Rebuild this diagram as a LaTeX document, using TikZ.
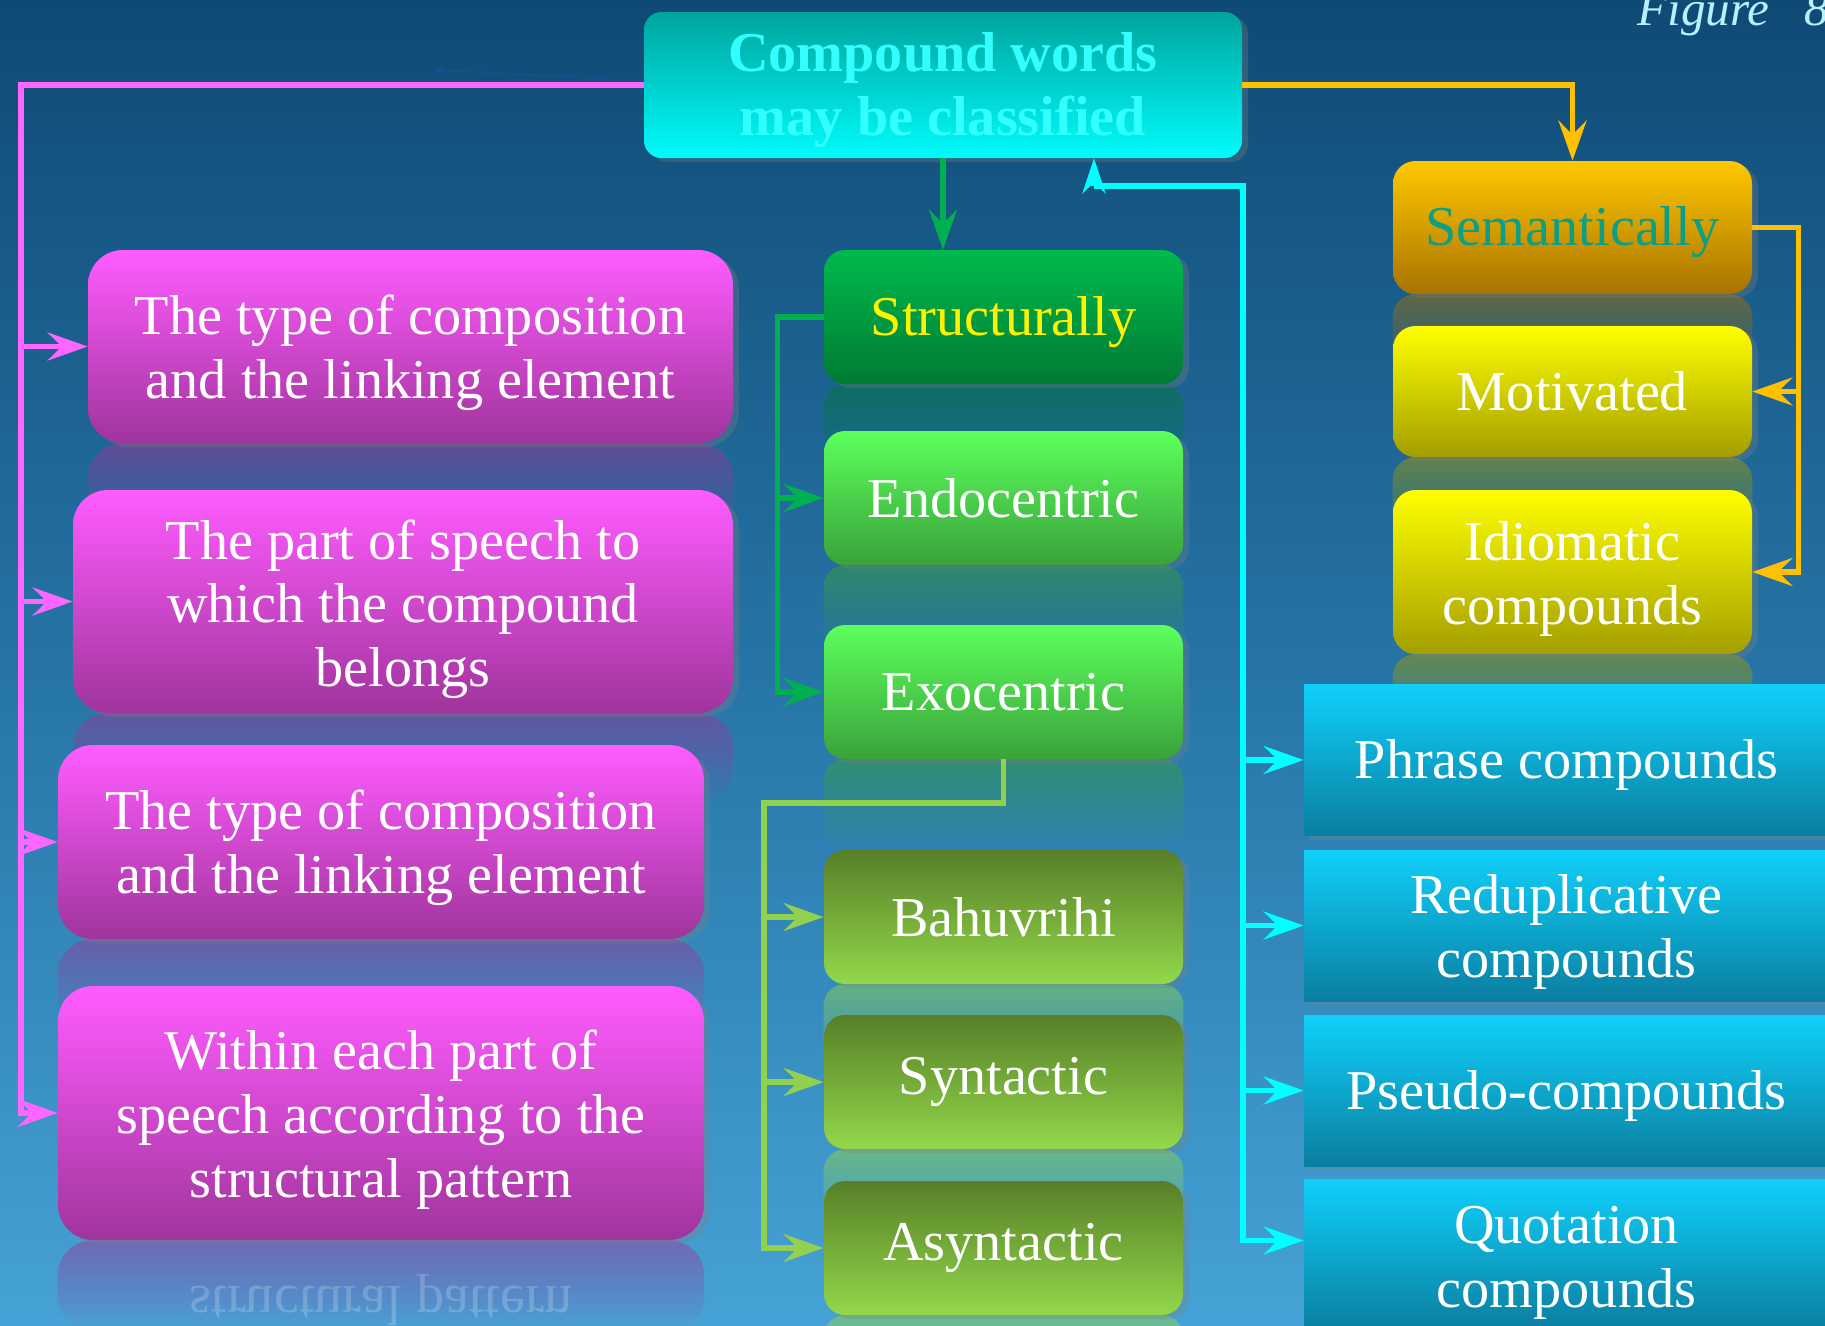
\documentclass[tikz,border=0pt]{standalone}
\usepackage{fontspec}
\setmainfont{Liberation Serif}
\usetikzlibrary{positioning, arrows.meta, shadows, fadings, backgrounds, calc}

\definecolor{bgTop}{HTML}{0F4A75}
\definecolor{bgMid}{HTML}{2674A6}
\definecolor{bgBot}{HTML}{46A2D6}
\definecolor{cyTop}{HTML}{00A49E}
\definecolor{cyBot}{HTML}{00FCFC}
\definecolor{cyText}{HTML}{33FFFF}
\definecolor{pinkTop}{HTML}{FF5CFF}
\definecolor{pinkBot}{HTML}{A0349C}
\definecolor{strTop}{HTML}{00BA4C}
\definecolor{strBot}{HTML}{007A34}
\definecolor{limeTop}{HTML}{5CFF5C}
\definecolor{limeBot}{HTML}{3AA23A}
\definecolor{oliveTop}{HTML}{577F28}
\definecolor{oliveBot}{HTML}{93D84A}
\definecolor{semTop}{HTML}{FFC800}
\definecolor{semBot}{HTML}{A87200}
\definecolor{semText}{HTML}{0E9E86}
\definecolor{yelTop}{HTML}{FFFF00}
\definecolor{yelBot}{HTML}{A39E00}
\definecolor{blueTop}{HTML}{10D0FA}
\definecolor{blueBot}{HTML}{0A7EA0}
\definecolor{pinkLine}{HTML}{FF66FF}
\definecolor{orangeLine}{HTML}{FFC000}
\definecolor{greenLine}{HTML}{00B050}
\definecolor{oliveLine}{HTML}{92D050}
\definecolor{cyanLine}{HTML}{00FFFF}
\definecolor{figText}{HTML}{B8F0FF}
\definecolor{strayLine}{HTML}{1A4E8C}

\begin{document}
\begin{tikzpicture}[
	every node/.style={font=\fontsize{32}{36.4}\selectfont, text=white, align=center, inner sep=0pt},
	box/.style={rectangle, rounded corners=0.42cm, minimum width=7.18cm, minimum height=2.68cm,
		drop shadow={shadow xshift=0.12cm, shadow yshift=-0.08cm, opacity=0.3}},
	lowtext/.style={execute at begin node={\rule{0pt}{#1}}},
	lowtext/.default=0.98cm,
	rootbox/.style={box, lowtext=2.25cm, rounded corners=0.35cm, minimum width=11.96cm, minimum height=2.92cm,
		top color=cyTop, bottom color=cyBot, text=cyText, font=\fontsize{32}{36.4}\selectfont\bfseries},
	pinkbox/.style={box, lowtext=2.31cm, rounded corners=0.7cm, top color=pinkTop, bottom color=pinkBot},
	strbox/.style={box, lowtext, top color=strTop, bottom color=strBot, text=yellow},
	limebox/.style={box, top color=limeTop, bottom color=limeBot},
	olivebox/.style={box, top color=oliveTop, bottom color=oliveBot},
	sembox/.style={box, lowtext, rounded corners=0.45cm, minimum height=2.66cm, top color=semTop, bottom color=semBot, text=semText},
	yelbox/.style={box, rounded corners=0.45cm, minimum height=2.62cm, top color=yelTop, bottom color=yelBot},
	bluebox/.style={box, lowtext, rounded corners=0pt, minimum width=10.5cm, minimum height=3.02cm, top color=blueTop, bottom color=blueBot},
	headtip/.style={-{Stealth[length=0.8cm, width=0.56cm, inset=0.28cm]}},
	wire/.style={line width=3pt, headtip},
	pinkline/.style={wire, pinkLine},
	orangeline/.style={wire, orangeLine},
	greenline/.style={wire, greenLine},
	oliveline/.style={wire, oliveLine},
	cyanline/.style={wire, cyanLine}
	]
	\useasboundingbox (0,0) rectangle (36.5,-26.52);
	
	% root
	\node[rootbox] (root) at (18.86,-1.70) {Compound words\\may be classified};
	\node[font=\itshape\fontsize{28}{32}\selectfont, text=figText, anchor=base west] (figLabel) at (32.74,-0.5) {Figure\hspace{0.7cm}8};
	
	% left column
	\node[pinkbox, minimum width=12.9cm, minimum height=3.86cm] (typeA) at (8.21,-6.93) {The type of composition\\and the linking element};
	\node[pinkbox, lowtext=3.66cm, minimum width=13.2cm, minimum height=4.46cm] (partSpeech) at (8.06,-12.03) {The part of speech to\\which the compound\\belongs};
	\node[pinkbox, minimum width=12.92cm, minimum height=3.88cm] (typeB) at (7.62,-16.84) {The type of composition\\and the linking element};
	\node[pinkbox, lowtext=3.6cm, minimum width=12.92cm, minimum height=5.08cm] (withinPart) at (7.62,-22.26) {Within each part of\\speech according to the\\structural pattern};
	\node[yscale=-1, opacity=0.2] (withinMirror) at (7.62,-26.0) {structural pattern};
	
	% middle column
	\node[strbox] (struct) at (20.07,-6.34) {Structurally};
	\node[limebox] (endo) at (20.07,-9.96) {Endocentric};
	\node[limebox] (exo) at (20.07,-13.84) {Exocentric};
	\node[olivebox] (bahu) at (20.07,-18.34) {Bahuvrihi};
	\node[olivebox] (synt) at (20.07,-21.64) {Syntactic};
	\node[olivebox] (asynt) at (20.07,-24.96) {Asyntactic};
	
	% right column
	\node[sembox] (sem) at (31.45,-4.55) {Semantically};
	\node[yelbox] (motiv) at (31.45,-7.83) {Motivated};
	\node[yelbox, lowtext=2.33cm, minimum height=3.28cm] (idiom) at (31.45,-11.44) {Idiomatic\\compounds};
	\node[bluebox] (phrase) at (31.33,-15.2) {Phrase compounds};
	\node[bluebox, lowtext=2.31cm] (redup) at (31.33,-18.51) {Reduplicative\\compounds};
	\node[bluebox] (pseudo) at (31.33,-21.81) {Pseudo-compounds};
	\node[bluebox, lowtext=2.36cm] (quot) at (31.33,-25.09) {Quotation\\compounds};
	
	% background and reflections
	\begin{scope}[on background layer]
		\shade[top color=bgTop, bottom color=bgBot, middle color=bgMid] (0,0) rectangle (36.5,-26.52);
		\foreach \n/\c/\r in {typeA/pinkBot/0.7cm, partSpeech/pinkBot/0.7cm, typeB/pinkBot/0.7cm, withinPart/pinkBot/0.7cm,
			struct/strBot/0.42cm, endo/limeBot/0.42cm, exo/limeBot/0.42cm, bahu/oliveBot/0.42cm, synt/oliveBot/0.42cm,
			asynt/oliveBot/0.42cm, sem/semBot/0.45cm, motiv/yelBot/0.45cm, idiom/yelBot/0.45cm}
		\fill[\c, fill opacity=0.5, path fading=south, rounded corners=\r] (\n.south west) rectangle ([yshift=-1.8cm]\n.south east);
	\end{scope}
	
	% stray arrow
	\coordinate (strayFrom) at (12.22,-1.58);
	\coordinate (strayTo) at (8.66,-1.40);
	\draw[strayLine, line width=1pt, -{Stealth[length=0.25cm, width=0.18cm]}] (strayFrom) -- (strayTo);
	
	% pink
	\coordinate (pinkTrunk) at (0.42,-1.70);
	\draw[pinkline] (root.west) -- (pinkTrunk) |- (withinPart.west);
	\foreach \n in {typeA, partSpeech, typeB}
	\draw[pinkline] (pinkTrunk |- \n.west) -- (\n.west);
	
	% orange
	\draw[orangeline] (root.east) -| (sem.north);
	\draw[orangeline] (sem.east) -- ++(0.92,0) coordinate (orangeBus) |- (idiom.east);
	\draw[orangeline] (orangeBus |- motiv.east) -- (motiv.east);
	
	% green
	\draw[greenline] (root.south) -- (root.south |- struct.north);
	\draw[greenline] (struct.west) -- ++(-0.92,0) coordinate (greenBus) |- (exo.west);
	\draw[greenline] (greenBus |- endo.west) -- (endo.west);
	
	\coordinate (oliveBus) at (15.28,-16.06);
	\draw[oliveline] (exo.south) |- (oliveBus) |- (asynt.west);
	\foreach \n in {bahu, synt}
	\draw[oliveline] (oliveBus |- \n.west) -- (\n.west);
	
	% cyan
	\coordinate (cyanUp) at (21.88,-3.72);
	\coordinate (cyanBus) at (24.86,-3.72);
	\draw[cyanline, -{Stealth[length=0.7cm, width=0.46cm, inset=0.22cm]}] (cyanUp) -- (cyanUp |- root.south);
	\draw[cyanline] (cyanUp) -- (cyanBus) |- ([yshift=0.28cm]quot.west);
	\foreach \n in {phrase, redup, pseudo}
	\draw[cyanline] (cyanBus |- \n.west) -- (\n.west);
	
\end{tikzpicture}
\end{document}
